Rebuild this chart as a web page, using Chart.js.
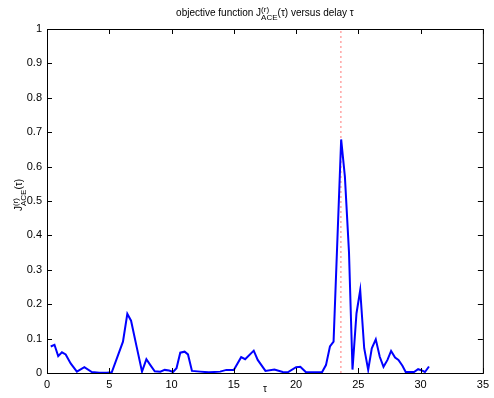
<!DOCTYPE html>
<html>
<head>
<meta charset="utf-8">
<script src="https://cdn.jsdelivr.net/npm/chart.js@4/dist/chart.umd.min.js"></script>
<style>
  html, body { margin: 0; padding: 0; background: #fff; }
  #wrap { width: 494px; height: 398px; }
</style>
</head>
<body>
<div id="wrap"><canvas id="accChart" width="494" height="398"></canvas></div>
<script>
// delay values (tau) and objective function values
const tau = [0.3, 0.6, 0.9, 1.2, 1.5, 1.9, 2.4, 3.0, 3.6, 4.2, 4.8, 5.2, 6.1, 6.45, 6.75, 7.2, 7.63, 7.98, 8.3, 8.65,
  9.1, 9.45, 9.8, 10.12, 10.4, 10.7, 11.05, 11.32, 11.64, 12.3, 13.0, 13.9, 14.4, 15.0, 15.59, 15.91, 16.6, 16.92,
  17.54, 18.26, 18.93, 19.33, 20.0, 20.34, 20.8, 22.08, 22.4, 22.72, 23.01, 23.62, 23.92, 24.25, 24.53, 24.85,
  25.15, 25.47, 25.79, 26.08, 26.4, 26.72, 27.02, 27.34, 27.63, 27.95, 28.22, 28.54, 28.8, 29.47, 29.8, 30.13,
  30.35, 30.67];
const jAce = [0.077, 0.082, 0.049, 0.06, 0.054, 0.028, 0.004, 0.017, 0.003, 0.001, 0.001, 0.002, 0.091, 0.172, 0.152, 0.076, 0.004, 0.04, 0.023, 0.005,
  0.004, 0.009, 0.007, 0.003, 0.014, 0.059, 0.062, 0.054, 0.006, 0.004, 0.002, 0.004, 0.009, 0.009, 0.046, 0.04, 0.065, 0.038,
  0.006, 0.01, 0.003, 0.002, 0.017, 0.018, 0.002, 0.002, 0.023, 0.077, 0.091, 0.679, 0.571, 0.35, 0.01, 0.173,
  0.241, 0.072, 0.009, 0.072, 0.098, 0.047, 0.018, 0.038, 0.064, 0.045, 0.038, 0.021, 0.003, 0.003, 0.011, 0.007,
  0.003, 0.019];
const bestDelay = 23.6;
const xTicks = [0, 5, 10, 15, 20, 25, 30, 35];
const yTicks = [0, 0.1, 0.2, 0.3, 0.4, 0.5, 0.6, 0.7, 0.8, 0.9, 1];

const FONT = '"Liberation Sans", Arial, Helvetica, sans-serif';

// draws text pieces; sup/sub pairs get stacked at the same x
function richText(ctx, pieces, size) {
  let w = 0;
  pieces.forEach(p => {
    if (p.sup !== undefined) {
      ctx.font = (size - 2) + 'px ' + FONT;
      p.w = Math.max(ctx.measureText(p.sup).width, ctx.measureText(p.sub).width);
    } else {
      ctx.font = size + 'px ' + FONT;
      p.w = ctx.measureText(p.t).width;
    }
    w += p.w;
  });
  return w;
}
function drawRich(ctx, pieces, size, x, y) {
  const total = richText(ctx, pieces, size);
  let cx = x - total / 2;
  ctx.textAlign = 'left';
  ctx.textBaseline = 'alphabetic';
  pieces.forEach(p => {
    if (p.sup !== undefined) {
      ctx.font = (size - 2) + 'px ' + FONT;
      ctx.fillText(p.sup, cx, y - size * 0.45);
      ctx.fillText(p.sub, cx, y + size * 0.35);
    } else {
      ctx.font = size + 'px ' + FONT;
      ctx.fillText(p.t, cx, y);
    }
    cx += p.w;
  });
}

const matlabBox = {
  id: 'matlabBox',
  afterDraw(chart) {
    const ctx = chart.ctx;
    const a = chart.chartArea;
    const xs = chart.scales.x, ys = chart.scales.y;
    ctx.save();
    ctx.strokeStyle = '#000';
    ctx.lineWidth = 1;
    ctx.strokeRect(a.left + 0.5, a.top + 0.5, a.right - a.left, a.bottom - a.top);
    ctx.beginPath();
    xTicks.forEach(v => {
      const px = Math.round(xs.getPixelForValue(v)) + 0.5;
      ctx.moveTo(px, a.bottom); ctx.lineTo(px, a.bottom - 5);
      ctx.moveTo(px, a.top); ctx.lineTo(px, a.top + 5);
    });
    yTicks.forEach(v => {
      const py = Math.round(ys.getPixelForValue(v)) + 0.5;
      ctx.moveTo(a.left, py); ctx.lineTo(a.left + 5, py);
      ctx.moveTo(a.right, py); ctx.lineTo(a.right - 5, py);
    });
    ctx.stroke();

    ctx.fillStyle = '#000';
    // title
    drawRich(ctx, [
      { t: 'objective function J' },
      { sup: '(r)', sub: 'ACE' },
      { t: '(\u03c4) versus delay \u03c4' }
    ], 10, (a.left + a.right) / 2, 16);
    // x label
    ctx.font = '10px ' + FONT;
    ctx.textAlign = 'center';
    ctx.fillText('\u03c4', (a.left + a.right) / 2, 392);
    // y label
    ctx.translate(22, (a.top + a.bottom) / 2 - 6);
    ctx.rotate(-Math.PI / 2);
    drawRich(ctx, [
      { t: 'J' },
      { sup: '(r)', sub: 'ACE' },
      { t: '(\u03c4)' }
    ], 10, 0, 0);
    ctx.restore();
  }
};

new Chart(document.getElementById('accChart'), {
  type: 'scatter',
  data: {
    datasets: [
      {
        data: tau.map((t, i) => ({ x: t, y: jAce[i] })),
        showLine: true,
        borderColor: '#0000ff',
        borderWidth: 2,
        pointRadius: 0,
        tension: 0
      },
      {
        data: [{ x: bestDelay, y: 0 }, { x: bestDelay, y: 1 }],
        showLine: true,
        borderColor: 'rgba(255,60,60,0.7)',
        borderWidth: 1,
        borderDash: [2, 3],
        pointRadius: 0
      }
    ]
  },
  options: {
    responsive: false,
    animation: false,
    layout: { padding: { left: 0, right: 10, top: 29, bottom: 0 } },
    plugins: { legend: { display: false }, tooltip: { enabled: false }, title: { display: false } },
    scales: {
      x: {
        type: 'linear', min: 0, max: 35,
        grid: { display: false, drawTicks: false },
        border: { display: false },
        afterFit: s => { s.height = 25; },
        afterBuildTicks: s => { s.ticks = xTicks.map(v => ({ value: v })); },
        ticks: { padding: 5, color: '#000', font: { family: FONT, size: 11 }, maxRotation: 0 }
      },
      y: {
        type: 'linear', min: 0, max: 1,
        grid: { display: false, drawTicks: false },
        border: { display: false },
        afterFit: s => { s.width = 47; },
        afterBuildTicks: s => { s.ticks = yTicks.map(v => ({ value: v })); },
        ticks: { padding: 5, color: '#000', font: { family: FONT, size: 11 }, callback: v => String(v) }
      }
    }
  },
  plugins: [matlabBox]
});
</script>
</body>
</html>
